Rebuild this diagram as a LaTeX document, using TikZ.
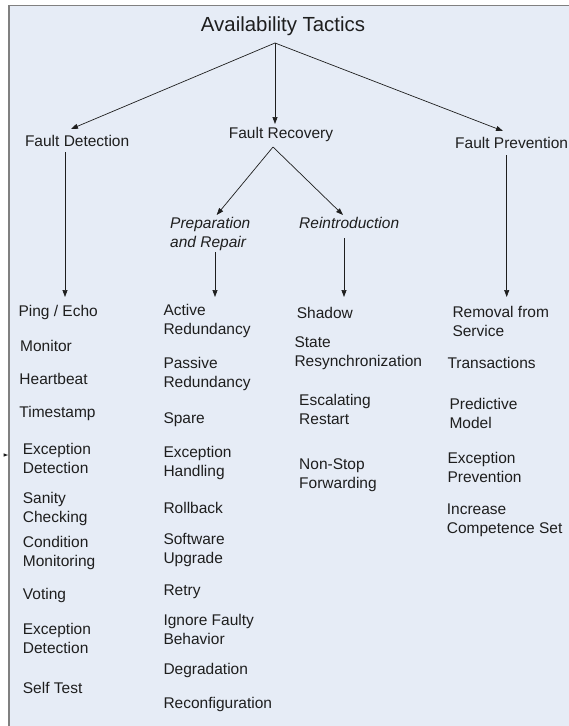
\documentclass[tikz,border=0pt]{standalone}
\usepackage{fontspec}
\setmainfont{Liberation Sans}
\usetikzlibrary{arrows.meta}
\definecolor{bgblue}{RGB}{230,236,246}
\definecolor{framegray}{RGB}{128,128,128}
\definecolor{ink}{RGB}{30,30,30}
\begin{document}
\begin{tikzpicture}[x=1pt,y=-1pt,
  txt/.style={font=\fontsize{15.5}{19}\selectfont, text=ink, inner sep=0pt, anchor=west, align=left},
  ital/.style={font=\fontsize{15.5}{19}\selectfont\itshape, text=ink, inner sep=0pt, anchor=west, align=left},
  arr/.style={draw=ink, line width=0.7pt, -{Triangle[length=7pt,width=5pt]}},
]
\useasboundingbox (0,0) rectangle (569,726);
\clip (0,0) rectangle (569,726);
\fill[white] (0,0) rectangle (569,726);
\filldraw[fill=bgblue, draw=framegray, line width=1.5pt] (9,5.7) rectangle (580,740);

% stray tick at the left edge
\fill[ink] (3.5,453.3) -- (8,455) -- (3.5,456.7) -- cycle;

% title and first level
\node[font=\fontsize{20.4}{24}\selectfont, text=ink, inner sep=0pt] (root) at (283,26) {Availability Tactics};
\node[txt] (fd) at (24.8,141) {Fault Detection};
\node[txt, anchor=center] (fr) at (281,134) {Fault Recovery};
\node[txt] (fp) at (455,143) {Fault Prevention};

\coordinate (apex) at (275,43);
\coordinate (fdtip) at (71,129);
\coordinate (frtip) at (275,124);
\coordinate (fptip) at (503,131);
\draw[arr] (apex) -- (fdtip);
\draw[arr] (apex) -- (frtip);
\draw[arr] (apex) -- (fptip);

% second level of recovery
\node[ital] (prep) at (170,233.5) {Preparation\\and Repair};
\node[ital] (rein) at (299,223) {Reintroduction};
\coordinate (frfork) at (273,147);
\coordinate (preptip) at (216.7,215);
\coordinate (reintip) at (343,215);
\draw[arr] (frfork) -- (preptip);
\draw[arr] (frfork) -- (reintip);

% vertical arrows
\coordinate (fdtop) at (65,152);
\coordinate (fdbot) at (65,297);
\coordinate (fptop) at (506.7,155);
\coordinate (fpbot) at (506.7,297);
\coordinate (preptop) at (215,252);
\coordinate (prepbot) at (215,297);
\coordinate (reintop) at (344,238);
\coordinate (reinbot) at (344,297);
\draw[arr] (fdtop) -- (fdbot);
\draw[arr] (fptop) -- (fpbot);
\draw[arr] (preptop) -- (prepbot);
\draw[arr] (reintop) -- (reinbot);

% column 1: fault detection
\node[txt] (d1) at (18.3,312) {Ping / Echo};
\node[txt] (d2) at (20,345.5) {Monitor};
\node[txt] (d3) at (19.3,379.3) {Heartbeat};
\node[txt] (d4) at (19.3,413) {Timestamp};
\node[txt] (d5) at (22.7,458.7) {Exception\\Detection};
\node[txt] (d6) at (22.7,509.2) {Sanity\\Checking};
\node[txt] (d7) at (22.7,553.3) {Condition\\Monitoring};
\node[txt] (d8) at (22.7,595) {Voting};
\node[txt] (d9) at (22.7,638.3) {Exception\\Detection};
\node[txt] (d10) at (22.7,688.3) {Self Test};

% column 2: preparation and repair
\node[txt] (r1) at (163.3,320.8) {Active\\Redundancy};
\node[txt] (r2) at (163.3,374) {Passive\\Redundancy};
\node[txt] (r3) at (163.3,420) {Spare};
\node[txt] (r4) at (163.3,462.5) {Exception\\Handling};
\node[txt] (r5) at (163.3,508) {Rollback};
\node[txt] (r6) at (163.3,550) {Software\\Upgrade};
\node[txt] (r7) at (163.3,591.7) {Retry};
\node[txt] (r8) at (163.3,629.2) {Ignore Faulty\\Behavior};
\node[txt] (r9) at (163.3,670) {Degradation};
\node[txt] (r10) at (163.3,704.3) {Reconfiguration};

% column 3: reintroduction
\node[txt] (i1) at (296.7,313.3) {Shadow};
\node[txt] (i2) at (294.3,353.5) {State\\Resynchronization};
\node[txt] (i3) at (299,409.5) {Escalating\\Restart};
\node[txt] (i4) at (299,475.5) {Non-Stop\\Forwarding};

% column 4: fault prevention
\node[txt] (p1) at (452.3,321) {Removal from\\Service};
\node[txt] (p2) at (447.3,362.7) {Transactions};
\node[txt] (p3) at (449.3,413.3) {Predictive\\Model};
\node[txt] (p4) at (447.3,467.2) {Exception\\Prevention};
\node[txt] (p5) at (446.7,520.3) {Increase\\Competence Set};
\end{tikzpicture}
\end{document}
